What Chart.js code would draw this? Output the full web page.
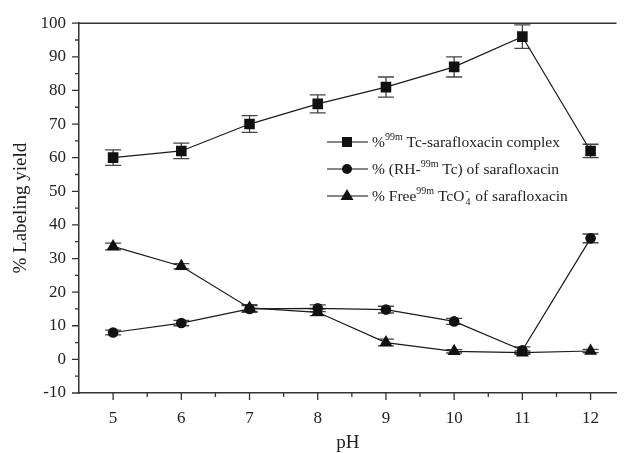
<!DOCTYPE html>
<html>
<head>
<meta charset="utf-8">
<script src="https://cdn.jsdelivr.net/npm/chart.js@4.4.0/dist/chart.umd.min.js"></script>
<style>
  html, body { margin: 0; padding: 0; background: #fff; }
  #wrap { width: 624px; height: 453px; }
</style>
</head>
<body>
<div id="wrap"><canvas id="chart"></canvas></div>
<script>
// Data
const phValues = [5, 6, 7, 8, 9, 10, 11, 12];
const complexYield = [60, 62, 70, 76, 81, 87, 96, 62];
const complexError = [2.3, 2.3, 2.5, 2.7, 3, 3, 3.5, 2];
const colloidYield = [8, 10.8, 15, 15.2, 14.8, 11.3, 2.7, 36];
const colloidError = [0.7, 0.8, 1, 1, 1, 0.9, 1, 1.3];
const freeYield = [33.6, 27.7, 15.3, 14, 5, 2.4, 2, 2.5];
const freeError = [1, 0.8, 1, 1, 1, 0.5, 0.5, 0.5];

const xMajorTicks = [5, 6, 7, 8, 9, 10, 11, 12];
const xMinorTicks = [5.5, 6.5, 7.5, 8.5, 9.5, 10.5, 11.5];
const yMajorTicks = [-10, 0, 10, 20, 30, 40, 50, 60, 70, 80, 90, 100];
const yMinorTicks = [-5, 5, 15, 25, 35, 45, 55, 65, 75, 85, 95];

const legendRows = [
  [{ t: "%" }, { t: "99m", sup: true }, { t: " Tc-sarafloxacin complex" }],
  [{ t: "% (RH-" }, { t: "99m", sup: true }, { t: " Tc) of sarafloxacin" }],
  [{ t: "% Free" }, { t: "99m", sup: true }, { t: " TcO" }, { t: "4", sub: true, supAbove: "-" }, { t: " of sarafloxacin" }],
];

const serif = "'Liberation Serif', 'DejaVu Serif', serif";
const inkColor = "#222";
const axisColor = "#333";

function toPoints(values) {
  return phValues.map((ph, i) => ({ x: ph, y: values[i] }));
}

function makeDataset(label, values, errors, style, radius) {
  return {
    label: label,
    data: toPoints(values),
    errors: errors,
    borderColor: "#1a1a1a",
    backgroundColor: "#111",
    borderWidth: 1.2,
    pointStyle: style,
    pointRadius: radius,
    pointBackgroundColor: "#111",
    pointBorderColor: "#111",
    pointBorderWidth: 0,
    tension: 0,
  };
}

// Error bars, drawn under the markers
const errorBarPlugin = {
  id: "errorBars",
  beforeDatasetsDraw(chart) {
    const ctx = chart.ctx;
    const xScale = chart.scales.x;
    const yScale = chart.scales.y;
    ctx.save();
    ctx.strokeStyle = "#444";
    ctx.lineWidth = 1.3;
    for (const dataset of chart.data.datasets) {
      dataset.data.forEach((point, i) => {
        const err = dataset.errors[i];
        const x = xScale.getPixelForValue(point.x);
        const top = yScale.getPixelForValue(point.y + err);
        const bottom = yScale.getPixelForValue(point.y - err);
        ctx.beginPath();
        ctx.moveTo(x, top);
        ctx.lineTo(x, bottom);
        ctx.moveTo(x - 8, top);
        ctx.lineTo(x + 8, top);
        ctx.moveTo(x - 8, bottom);
        ctx.lineTo(x + 8, bottom);
        ctx.stroke();
      });
    }
    ctx.restore();
  },
};

function drawMarker(ctx, style, x, y) {
  ctx.beginPath();
  if (style === "rect") {
    ctx.rect(x - 5, y - 5, 10, 10);
  } else if (style === "circle") {
    ctx.arc(x, y, 5, 0, Math.PI * 2);
  } else {
    ctx.moveTo(x, y - 7);
    ctx.lineTo(x + 6.5, y + 4);
    ctx.lineTo(x - 6.5, y + 4);
    ctx.closePath();
  }
  ctx.fill();
}

// Frame, minor ticks and the legend
const framePlugin = {
  id: "frame",
  afterDraw(chart) {
    const ctx = chart.ctx;
    const area = chart.chartArea;
    const xScale = chart.scales.x;
    const yScale = chart.scales.y;
    ctx.save();
    ctx.strokeStyle = axisColor;
    ctx.lineWidth = 1.5;
    ctx.beginPath();
    ctx.moveTo(area.left, area.top);
    ctx.lineTo(area.right, area.top);
    ctx.stroke();

    ctx.lineWidth = 1.3;
    ctx.beginPath();
    for (const v of xMajorTicks) {
      const x = xScale.getPixelForValue(v);
      ctx.moveTo(x, area.bottom);
      ctx.lineTo(x, area.bottom + 7);
    }
    for (const v of xMinorTicks) {
      const x = xScale.getPixelForValue(v);
      ctx.moveTo(x, area.bottom);
      ctx.lineTo(x, area.bottom + 4);
    }
    for (const v of yMajorTicks) {
      const y = yScale.getPixelForValue(v);
      ctx.moveTo(area.left, y);
      ctx.lineTo(area.left - 7, y);
    }
    for (const v of yMinorTicks) {
      const y = yScale.getPixelForValue(v);
      ctx.moveTo(area.left, y);
      ctx.lineTo(area.left - 4, y);
    }
    ctx.stroke();

    // legend
    const styles = ["rect", "circle", "triangle"];
    const rowY = [142, 169, 196];
    ctx.fillStyle = "#111";
    ctx.strokeStyle = "#111";
    ctx.lineWidth = 1.2;
    legendRows.forEach((segments, row) => {
      const y = rowY[row];
      ctx.beginPath();
      ctx.moveTo(327, y);
      ctx.lineTo(368, y);
      ctx.stroke();
      drawMarker(ctx, styles[row], 347, y);

      let x = 372;
      const baseline = y + 5;
      ctx.fillStyle = inkColor;
      ctx.textBaseline = "alphabetic";
      ctx.textAlign = "left";
      for (const seg of segments) {
        if (seg.sup) {
          ctx.font = "10px " + serif;
          ctx.fillText(seg.t, x, baseline - 7);
          x += ctx.measureText(seg.t).width;
        } else if (seg.sub) {
          ctx.font = "10px " + serif;
          ctx.fillText(seg.t, x + 1, baseline + 4);
          const w = ctx.measureText(seg.t).width;
          ctx.fillText(seg.supAbove, x + 1, baseline - 7);
          x += w + 2;
        } else {
          ctx.font = "15.5px " + serif;
          ctx.fillText(seg.t, x, baseline);
          x += ctx.measureText(seg.t).width;
        }
      }
      ctx.fillStyle = "#111";
    });
    ctx.restore();
  },
};

const canvas = document.getElementById("chart");
new Chart(canvas, {
  type: "line",
  data: {
    datasets: [
      makeDataset("99mTc-sarafloxacin complex", complexYield, complexError, "rect", 7.5),
      makeDataset("(RH-99mTc) of sarafloxacin", colloidYield, colloidError, "circle", 5.3),
      makeDataset("Free 99mTcO4- of sarafloxacin", freeYield, freeError, "triangle", 7.5),
    ],
  },
  options: {
    responsive: true,
    maintainAspectRatio: false,
    animation: false,
    layout: { padding: { top: 23, right: 0, left: 0, bottom: 0 } },
    plugins: {
      legend: { display: false },
      tooltip: { enabled: false },
    },
    scales: {
      x: {
        type: "linear",
        min: 4.5,
        max: 12.38,
        afterBuildTicks(scale) {
          scale.ticks = xMajorTicks.map((v) => ({ value: v }));
        },
        afterFit(scale) {
          scale.height = 60;
        },
        grid: { display: false, drawTicks: false },
        border: { display: true, color: axisColor, width: 1.5 },
        ticks: {
          padding: 15,
          color: inkColor,
          font: { family: serif, size: 17 },
          autoSkip: false,
          maxRotation: 0,
        },
        title: {
          display: true,
          text: "pH",
          color: inkColor,
          font: { family: serif, size: 19, lineHeight: 1 },
          padding: { top: 0, bottom: 0 },
        },
      },
      y: {
        type: "linear",
        min: -10,
        max: 100,
        afterBuildTicks(scale) {
          scale.ticks = yMajorTicks.map((v) => ({ value: v }));
        },
        afterFit(scale) {
          scale.width = 79;
        },
        grid: { display: false, drawTicks: false },
        border: { display: true, color: axisColor, width: 1.5 },
        ticks: {
          padding: 13,
          color: inkColor,
          font: { family: serif, size: 17 },
        },
        title: {
          display: true,
          text: "% Labeling yield",
          color: inkColor,
          font: { family: serif, size: 19, lineHeight: 1 },
          padding: { top: 12, bottom: 0 },
        },
      },
    },
  },
  plugins: [errorBarPlugin, framePlugin],
});
</script>
</body>
</html>
